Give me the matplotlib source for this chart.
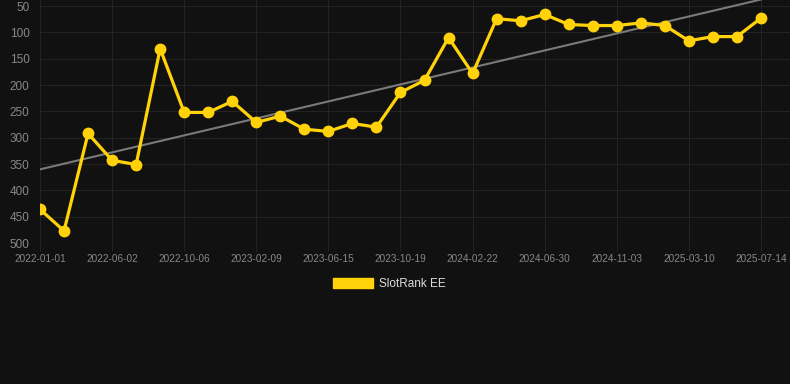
import matplotlib
matplotlib.use("Agg")
import matplotlib.pyplot as plt
from matplotlib.patches import Patch
import numpy as np

# rank values (lower is better, axis is reversed)
rank = [436, 477, 292, 343, 351, 131, 252, 252, 231, 271,
        259, 284, 288, 273, 280, 214, 191, 110, 178, 74,
        78, 66, 85, 87, 87, 82, 87, 116, 108, 108, 73]
tick_labels = ["2022-01-01", "2022-06-02", "2022-10-06", "2023-02-09",
               "2023-06-15", "2023-10-19", "2024-02-22", "2024-06-30",
               "2024-11-03", "2025-03-10", "2025-07-14"]
y_ticks = [50, 100, 150, 200, 250, 300, 350, 400, 450, 500]
series_name = "SlotRank EE"

BG = "#111111"
GOLD = "#ffd20a"
GRID = "#232323"

plt.rcParams['font.family'] = ['Liberation Sans', 'DejaVu Sans']

fig = plt.figure(figsize=(7.9, 3.84), dpi=100, facecolor=BG)
ax = fig.add_axes([40/790, 1 - 243/384, 1 - 40/790, 243/384])
ax.set_facecolor(BG)

x = np.arange(len(rank))

# trend line (least squares fit)
k, b = np.polyfit(x, rank, 1)
ax.plot(x, k*x + b, color="#7a7a7a", lw=1.5, zorder=2)

ax.plot(x, rank, color=GOLD, lw=2.3, marker='o', markersize=7.5,
        markerfacecolor=GOLD, markeredgecolor=GOLD, zorder=3)

ax.set_ylim(500, 38.5)
ax.set_xlim(0, len(rank) - 1 + 29/24)
ax.set_yticks(y_ticks)
ax.set_xticks(np.arange(0, len(rank), 3))
ax.set_xticklabels(tick_labels)

ax.grid(True, color=GRID, lw=0.8)
for s in ax.spines.values():
    s.set_visible(False)
ax.tick_params(axis='y', colors="#888888", labelsize=8.5, length=0, pad=7.5)
ax.tick_params(axis='x', colors=GRID, labelcolor="#888888", labelsize=7.2,
               length=6, width=0.8, pad=2)
ax.axhline(500, color="#333333", lw=0.8, zorder=1)

leg = fig.legend(handles=[Patch(facecolor=GOLD, edgecolor=GOLD)],
                 labels=[series_name], loc='center',
                 bbox_to_anchor=(389.5/790, 1 - 284/384), frameon=False,
                 handlelength=3.4, handleheight=1.0, handletextpad=0.5,
                 fontsize=8.5)
for t in leg.get_texts():
    t.set_color("#dddddd")

fig.savefig("out.png", dpi=100, facecolor=BG)
